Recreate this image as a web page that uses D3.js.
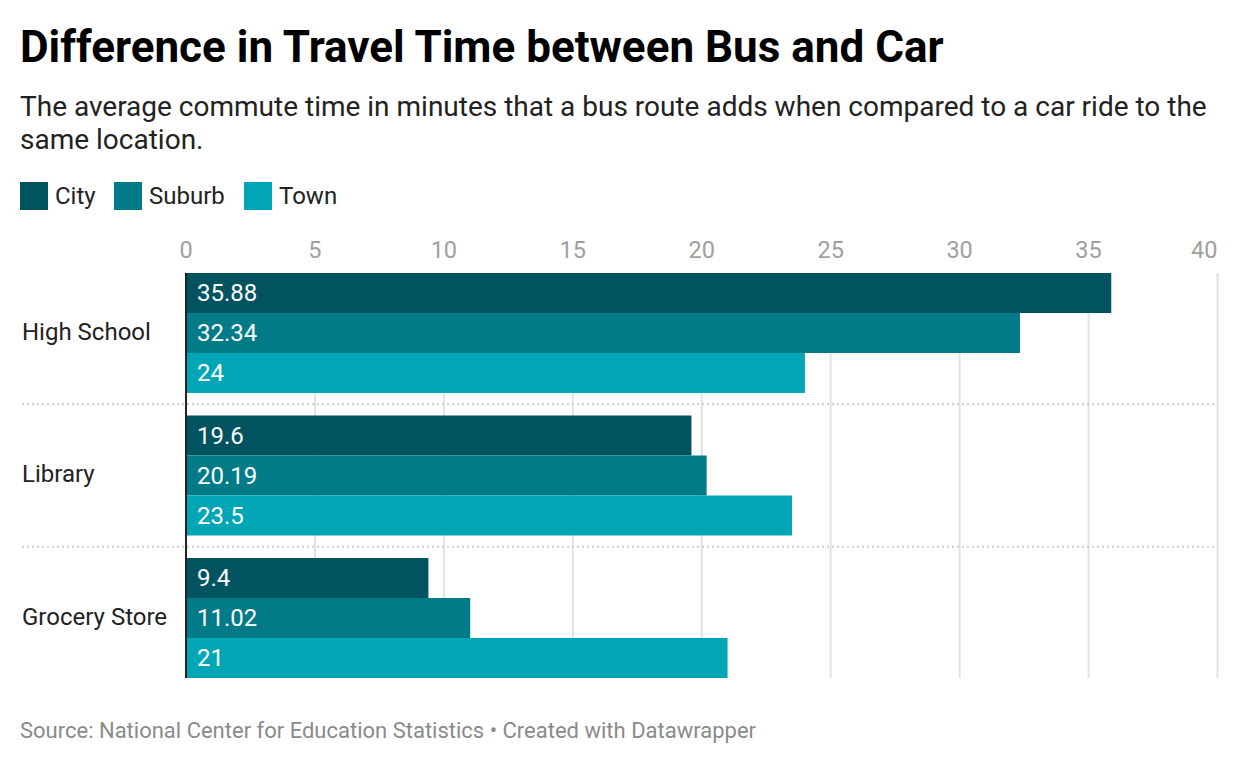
<!DOCTYPE html>
<html>
<head>
<meta charset="utf-8">
<script src="https://cdn.jsdelivr.net/npm/d3@7"></script>
<style>
  html, body { margin: 0; padding: 0; background: #fff; }
  svg { display: block; font-family: Roboto, "Noto Sans", sans-serif; }
</style>
</head>
<body>
<svg id="chart" width="1240" height="764"></svg>
<script>
const categories = ["High School", "Library", "Grocery Store"];
const seriesNames = ["City", "Suburb", "Town"];
const cityValues = [35.88, 19.6, 9.4];
const suburbValues = [32.34, 20.19, 11.02];
const townValues = [24, 23.5, 21];
const tickValues = [0, 5, 10, 15, 20, 25, 30, 35, 40];
const seriesColors = ["#00535f", "#007b87", "#00a6b5"];

const titleText = "Difference in Travel Time between Bus and Car";
const subtitleLines = ["The average commute time in minutes that a bus route adds when compared to a car ride to the", "same location."];
const footerText = "Source: National Center for Education Statistics • Created with Datawrapper";

const seriesValues = [cityValues, suburbValues, townValues];

const svg = d3.select("#chart");

svg.append("text").attr("x", 20).attr("y", 62)
  .attr("font-size", 44).attr("font-weight", 700).attr("fill", "#000")
  .text(titleText);

svg.append("g").selectAll("text").data(subtitleLines).join("text")
  .attr("x", 20).attr("y", (d, i) => 116 + i * 33)
  .attr("font-size", 28).attr("fill", "#222")
  .text(d => d);

// legend
const legendX = [20, 114, 244];
const lg = svg.append("g").selectAll("g").data(seriesNames).join("g")
  .attr("transform", (d, i) => `translate(${legendX[i]},182)`);
lg.append("rect").attr("width", 28).attr("height", 28).attr("fill", (d, i) => seriesColors[i]);
lg.append("text").attr("x", 35).attr("y", 22).attr("font-size", 24).attr("fill", "#222").text(d => d);

// scales
const x = d3.scaleLinear().domain([0, 40]).range([186, 1217.5]);
const groupTop = 273, barH = 40, groupGap = 22.5;
const y0 = d3.scaleBand().domain(categories)
  .range([groupTop, groupTop + 3 * 3 * barH + 2 * groupGap])
  .paddingInner(groupGap / (3 * barH + groupGap)).paddingOuter(0);
const y1 = d3.scaleBand().domain(seriesNames).range([0, y0.bandwidth()]);

// grid
const plotTop = groupTop, plotBottom = y0.range()[1];
svg.append("g").selectAll("line").data(tickValues.filter(d => d > 0)).join("line")
  .attr("x1", d => x(d)).attr("x2", d => x(d))
  .attr("y1", plotTop).attr("y2", plotBottom)
  .attr("stroke", "#e2e2e2").attr("stroke-width", 2);

svg.append("g").selectAll("text").data(tickValues).join("text")
  .attr("x", d => x(d)).attr("y", 258)
  .attr("text-anchor", (d, i) => i === tickValues.length - 1 ? "end" : "middle")
  .attr("font-size", 23.5).attr("fill", "#a0a0a0")
  .text(d => d);

// separators
const seps = categories.slice(1);
svg.append("g").selectAll("line").data(seps).join("line")
  .attr("x1", 22).attr("x2", 1217)
  .attr("y1", d => y0(d) - groupGap / 2).attr("y2", d => y0(d) - groupGap / 2)
  .attr("stroke", "#cccccc").attr("stroke-width", 2).attr("stroke-dasharray", "2,3");

// bars
const groups = svg.append("g").selectAll("g").data(categories).join("g")
  .attr("transform", d => `translate(0,${y0(d)})`);

groups.selectAll("rect").data((c, ci) => seriesNames.map((s, si) => ({ s, si, v: seriesValues[si][ci] }))).join("rect")
  .attr("x", x(0) + 1).attr("y", d => y1(d.s)).attr("height", y1.bandwidth())
  .attr("width", d => x(d.v) - x(0) - 1)
  .attr("fill", d => seriesColors[d.si]);

groups.selectAll("text.val").data((c, ci) => seriesNames.map((s, si) => ({ s, si, v: seriesValues[si][ci] }))).join("text")
  .attr("class", "val")
  .attr("x", 197).attr("y", d => y1(d.s) + y1.bandwidth() / 2 + 8)
  .attr("font-size", 24).attr("fill", "#fff")
  .text(d => d.v);

groups.append("text").attr("x", 22).attr("y", y0.bandwidth() / 2 + 6.5)
  .attr("font-size", 24).attr("fill", "#222").text(d => d);

// baseline axis
svg.append("line").attr("x1", x(0)).attr("x2", x(0)).attr("y1", plotTop).attr("y2", plotBottom)
  .attr("stroke", "#222").attr("stroke-width", 2);

svg.append("text").attr("x", 20).attr("y", 738)
  .attr("font-size", 22).attr("fill", "#8a8a8a").text(footerText);
</script>
</body>
</html>
